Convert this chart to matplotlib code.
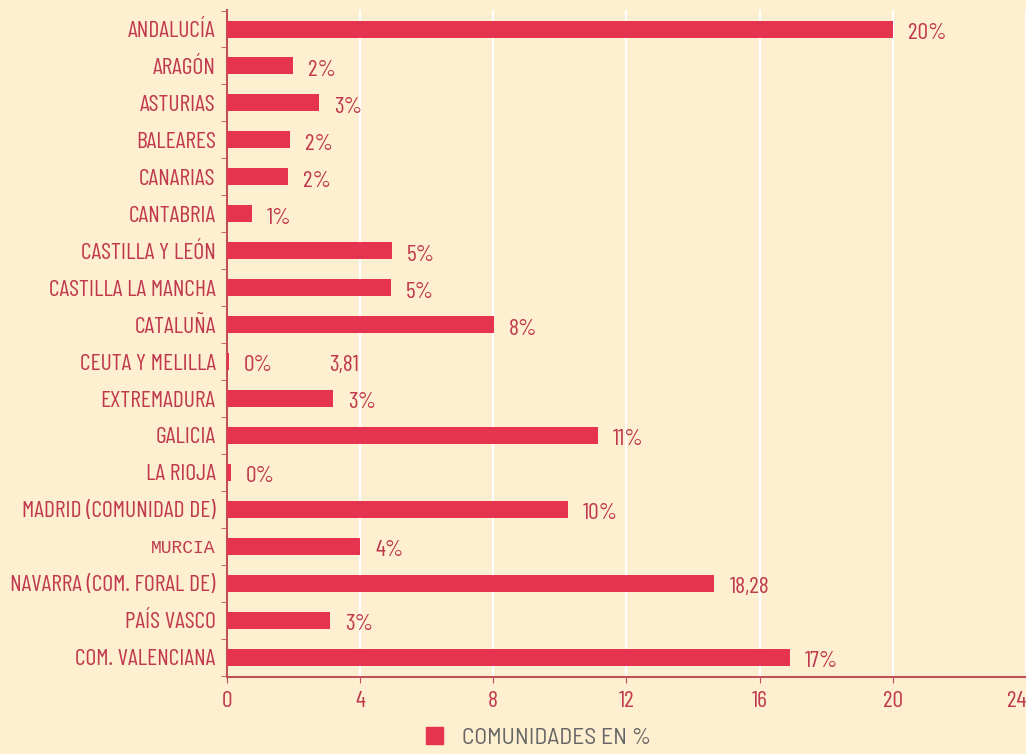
import matplotlib
matplotlib.use('Agg')
import matplotlib.pyplot as plt
from matplotlib.patches import Patch
from matplotlib.font_manager import FontProperties
from matplotlib.ticker import MultipleLocator

regions = ['ANDALUCÍA', 'ARAGÓN', 'ASTURIAS', 'BALEARES', 'CANARIAS', 'CANTABRIA',
           'CASTILLA Y LEÓN', 'CASTILLA LA MANCHA', 'CATALUÑA', 'CEUTA Y MELILLA',
           'EXTREMADURA', 'GALICIA', 'LA RIOJA', 'MADRID (COMUNIDAD DE)', 'MURCIA',
           'NAVARRA (COM. FORAL DE)', 'PAÍS VASCO', 'COM. VALENCIANA']
values = [20.0, 1.98, 2.78, 1.89, 1.83, 0.75, 4.97, 4.94, 8.02, 0.06,
          3.2, 11.14, 0.12, 10.24, 4.01, 14.64, 3.11, 16.92]
value_labels = ['20%', '2%', '3%', '2%', '2%', '1%', '5%', '5%', '8%', '0%',
                '3%', '11%', '0%', '10%', '4%', '18,28', '3%', '17%']
extra_label = '3,81'
extra_value = 3.81
x_ticks = [0, 4, 8, 12, 16, 20, 24]
legend_name = 'COMUNIDADES EN %'

bg = '#fdefd0'
bar_color = '#e5344f'
text_color = '#c0394e'

def cond(size, weight=400, family='Barlow Condensed'):
    return FontProperties(family=[family, 'DejaVu Sans'], weight=weight, size=size)

fig = plt.figure(figsize=(10.26, 7.54), dpi=100, facecolor=bg)
ax = fig.add_axes([0.221, 0.102, 0.779, 0.885], facecolor=bg)

y = list(range(len(regions)))
ax.barh(y, values, height=0.46, color=bar_color, zorder=3)

for yi, v, lab in zip(y, values, value_labels):
    ax.text(v + 0.45, yi + 0.12, lab, ha='left', va='center', color=text_color,
            fontproperties=cond(17))
ax.text(extra_value + 0.15, 9 + 0.12, extra_label, ha='right', va='center',
        color=text_color, fontproperties=cond(17))

ax.set_xlim(0, 24)
ax.set_ylim(len(regions) - 0.46, -0.52)
ax.set_xticks(x_ticks)
ax.set_yticks(y)
ax.set_yticklabels(regions)
ax.yaxis.set_minor_locator(MultipleLocator(1, offset=0.5))
ax.xaxis.grid(True, color='white', linewidth=1.5, zorder=0)
ax.set_axisbelow(True)

for lab in ax.get_yticklabels():
    lab.set_fontproperties(cond(17))
    lab.set_color(text_color)
    if lab.get_text() == 'MURCIA':
        lab.set_fontproperties(FontProperties(family=['Liberation Mono', 'DejaVu Sans Mono'], size=13))
for lab in ax.get_xticklabels():
    lab.set_fontproperties(cond(17))
    lab.set_color(text_color)
ax.get_xticklabels()[-1].set_ha('right')

ax.tick_params(axis='y', which='major', length=0, pad=8)
ax.tick_params(axis='y', which='minor', length=4, color='#c0505a')
ax.tick_params(axis='x', length=4, color='#c0505a', pad=6)
for s in ['top', 'right']:
    ax.spines[s].set_visible(False)
for s in ['left', 'bottom']:
    ax.spines[s].set_color('#c0505a')
    ax.spines[s].set_linewidth(1.5)

handle = Patch(facecolor=bar_color, edgecolor=bar_color)
fig.legend([handle], [legend_name], loc='center', bbox_to_anchor=(0.525, 0.021),
           frameon=False, handlelength=0.7, handleheight=0.7, handletextpad=0.8,
           prop=cond(17, family='Barlow Semi Condensed'), labelcolor='#666666')

fig.savefig('out.png', dpi=100, facecolor=bg)
